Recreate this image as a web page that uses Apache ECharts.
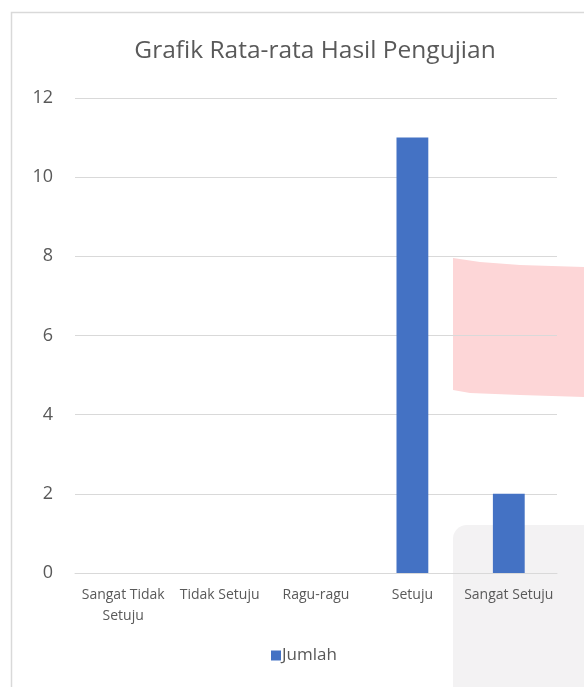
<!DOCTYPE html>
<html>
<head>
<meta charset="utf-8">
<script src="https://cdn.jsdelivr.net/npm/echarts@6/dist/echarts.min.js"></script>
<style>html,body{margin:0;padding:0;background:#fff}#c{width:584px;height:687px}</style>
</head>
<body>
<div id="c"></div>
<script>
const categories = ['Sangat Tidak\nSetuju', 'Tidak Setuju', 'Ragu-ragu', 'Setuju', 'Sangat Setuju'];
const jumlah = [0, 0, 0, 11, 2];
const seriesName = 'Jumlah';
const titleText = 'Grafik Rata-rata Hasil Pengujian';

const chart = echarts.init(document.getElementById('c'), null, {renderer: 'canvas'});
const font = '"Open Sans", "Noto Sans", sans-serif';
chart.setOption({
  animation: false,
  textStyle: {fontFamily: font},
  graphic: [
    {type: 'rect', z: -10, shape: {x: 11.5, y: 12.5, width: 600, height: 700}, style: {fill: '#fff', stroke: '#d9d9d9', lineWidth: 1.5}},
    {type: 'polygon', z: -9, shape: {points: [[453,258],[480,262],[520,265],[584,267],[584,397],[520,395],[470,393],[453,390]]}, style: {fill: '#fdd6d7'}},
    {type: 'rect', z: -9, shape: {x: 453, y: 525, width: 140, height: 170, r: [14,0,0,0]}, style: {fill: '#f3f2f3'}}
  ],
  title: {
    text: titleText, left: 310, top: 34, textAlign: 'center',
    textStyle: {fontSize: 24.5, fontWeight: 'normal', color: '#595959', fontFamily: font}
  },
  legend: {
    data: [seriesName], bottom: 18, left: 266, icon: 'rect', itemWidth: 10, itemHeight: 10, itemGap: 4,
    textStyle: {fontSize: 17, color: '#595959', fontFamily: font, padding: [0,0,0,-4]}
  },
  grid: {left: 75, right: 27, top: 98, bottom: 114},
  xAxis: {
    type: 'category', data: categories,
    axisLine: {lineStyle: {color: '#d9d9d9', width: 1}},
    axisTick: {show: false},
    axisLabel: {interval: 0, color: '#595959', fontSize: 14, margin: 12, lineHeight: 21, fontFamily: font}
  },
  yAxis: {
    type: 'value', min: 0, max: 12, interval: 2,
    axisLine: {show: false}, axisTick: {show: false},
    axisLabel: {color: '#595959', fontSize: 18, margin: 22, fontFamily: font},
    splitLine: {lineStyle: {color: '#d9d9d9', width: 1}}
  },
  series: [{
    name: seriesName, type: 'bar', data: jumlah, barWidth: '33%',
    itemStyle: {color: '#4472c4'}
  }]
});
</script>
</body>
</html>
